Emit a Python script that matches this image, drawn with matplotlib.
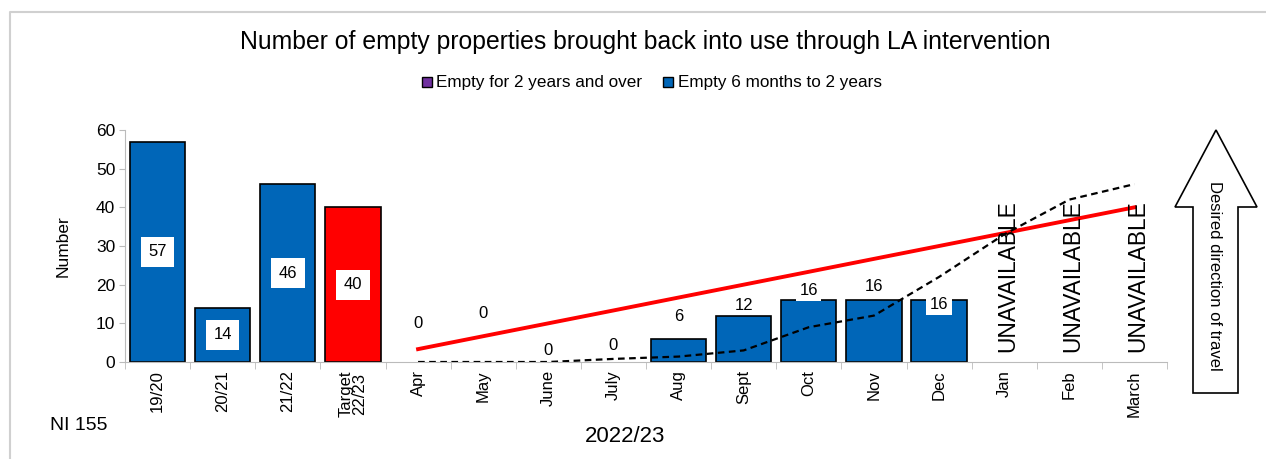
import matplotlib
matplotlib.use('Agg')
import matplotlib.pyplot as plt
from matplotlib.patches import Polygon
from matplotlib.lines import Line2D
import numpy as np

plt.rcParams['font.family'] = ['Liberation Sans', 'DejaVu Sans']

# data
categories = ['19/20', '20/21', '21/22', 'Target\n22/23', 'Apr', 'May', 'June', 'July',
              'Aug', 'Sept', 'Oct', 'Nov', 'Dec', 'Jan', 'Feb', 'March']
annual_vals = [57, 14, 46, 40]
annual_cols = ['#0066B8', '#0066B8', '#0066B8', '#FF0000']
monthly_6m = [0, 0, 0, 0, 6, 12, 16, 16, 16, np.nan, np.nan, np.nan]
monthly_2y = [0, 0, 0, 0, 0, 0, 0, 0, 0, np.nan, np.nan, np.nan]
target_cum = [3.33, 6.67, 10, 13.33, 16.67, 20, 23.33, 26.67, 30, 33.33, 36.67, 40]
prev_cum = [0, 0, 0, 0.8, 1.4, 3, 9, 12, 22, 33, 42, 46]
unavailable = ['Jan', 'Feb', 'March']

# label offsets (points) for the monthly labels
lab_off = [28, 35, 8, 12, 16, 7, 7, 10, -3]
lab_box = [False, False, False, False, False, False, True, False, True]

blue = '#0066B8'
purple = '#7030A0'

fig = plt.figure(figsize=(12.66, 4.59), dpi=100)
# outer frame (top and left edges only visible)
fig.add_artist(Line2D([10/1266, 10/1266, 1.0], [0.0, 1-12/459, 1-12/459], transform=fig.transFigure,
                      color='#D0D0D0', linewidth=1.5))
ax = fig.add_axes([125/1266, 1-362/459, 1042/1266, 232/459])

x = np.arange(len(categories))
xm = x[4:]
w = 0.85

bars = ax.bar(x[:4], annual_vals, width=w, color=annual_cols, edgecolor='black', linewidth=1.2)
for b, v in zip(bars, annual_vals):
    ax.text(b.get_x() + b.get_width()/2, v/2, str(v), ha='center', va='center', fontsize=12,
            bbox=dict(boxstyle='square,pad=0.45', facecolor='white', edgecolor='none'))

ax.bar(xm, monthly_2y, width=w, color=purple, edgecolor='black', linewidth=0)
lw = [1.2 if v > 0 else 0 for v in np.nan_to_num(monthly_6m)]
ax.bar(xm, monthly_6m, width=w, color=blue, edgecolor='black', linewidth=lw)

for i, v in enumerate(monthly_6m):
    if np.isnan(v):
        continue
    kw = {}
    if lab_box[i]:
        kw['bbox'] = dict(boxstyle='square,pad=0.2', facecolor='white', edgecolor='none')
    ax.annotate(str(int(v)), (xm[i], v), xytext=(0, lab_off[i]), textcoords='offset points',
                ha='center', va='center', fontsize=12, zorder=5, **kw)

ax.plot(xm, target_cum, color='#FF0000', linewidth=2.8, zorder=4)
ax.plot(xm, prev_cum, color='black', linewidth=1.6, linestyle=(0, (3, 2)), zorder=4)

for m in unavailable:
    i = categories.index(m)
    ax.text(x[i] + 0.05, 2.5, 'UNAVAILABLE', rotation=90, ha='center', va='bottom',
            fontsize=16.4, zorder=5)

ax.set_xlim(-0.5, len(categories) - 0.5)
ax.set_ylim(0, 60)
ax.set_yticks(range(0, 61, 10))
ax.set_xticks(x)
ax.set_xticklabels(categories, rotation=90, fontsize=12, va='top', linespacing=0.9)
ax.set_xticks(np.arange(-0.5, len(categories)), minor=True)
ax.tick_params(axis='x', which='major', length=0, pad=6)
ax.tick_params(axis='x', which='minor', length=5, color='#BBBBBB', direction='out')
ax.tick_params(axis='y', length=4, color='#BBBBBB', labelsize=12.5, pad=3)
for s in ['top', 'right']:
    ax.spines[s].set_visible(False)
for s in ['left', 'bottom']:
    ax.spines[s].set_color('#BBBBBB')
ax.set_ylabel('Number', fontsize=12.5, labelpad=18)

fig.text(645/1266, 1-42/459, 'Number of empty properties brought back into use through LA intervention',
         ha='center', va='center', fontsize=17.8)
handles = [Line2D([], [], marker='s', linestyle='none', markerfacecolor=purple, markeredgecolor='black',
                  markersize=7),
           Line2D([], [], marker='s', linestyle='none', markerfacecolor=blue, markeredgecolor='black',
                  markersize=7)]
fig.legend(handles, ['Empty for 2 years and over', 'Empty 6 months to 2 years'], loc='center',
           bbox_to_anchor=(650/1266, 1-83/459), ncol=2, frameon=False, fontsize=12.3,
           handletextpad=0.05, columnspacing=1.0, handlelength=1)

fig.text(50/1266, 1-425/459, 'NI 155', ha='left', va='center', fontsize=14)
fig.text(625/1266, 1-437/459, '2022/23', ha='center', va='center', fontsize=16)

# direction arrow
pts = [(1193, 393), (1238, 393), (1238, 207), (1257, 207), (1216, 130), (1175, 207), (1193, 207)]
arrow = Polygon([(px/1266, 1-py/459) for px, py in pts], closed=True, transform=fig.transFigure,
                facecolor='white', edgecolor='black', linewidth=1.2)
fig.patches.append(arrow)
fig.text(1215/1266, 1-276/459, 'Desired direction of travel', rotation=270, ha='center', va='center',
         fontsize=12)

fig.savefig('out.png', dpi=100)
